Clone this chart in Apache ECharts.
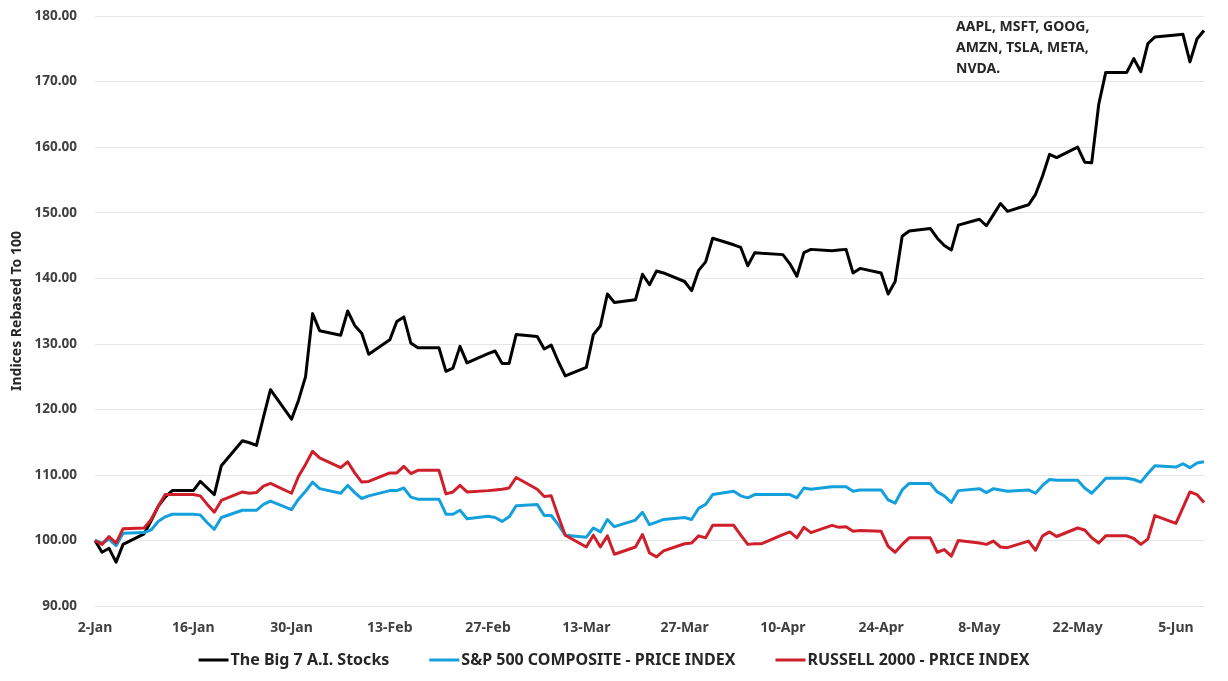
<!DOCTYPE html>
<html>
<head>
<meta charset="utf-8">
<title>The Big 7 A.I. Stocks vs indices</title>
<script src="https://cdn.jsdelivr.net/npm/echarts@6/dist/echarts.min.js"></script>
<style>
  html, body { margin: 0; padding: 0; background: #fff; }
  #chart { width: 1228px; height: 681px; }
</style>
</head>
<body>
<div id="chart"></div>
<script>
// weekdays of 2023 (MM-DD), one value per day in each series
const dates = [
  '01-02', '01-03', '01-04', '01-05', '01-06',
  '01-09', '01-10', '01-11', '01-12', '01-13',
  '01-16', '01-17', '01-18', '01-19', '01-20',
  '01-23', '01-24', '01-25', '01-26', '01-27',
  '01-30', '01-31', '02-01', '02-02', '02-03',
  '02-06', '02-07', '02-08', '02-09', '02-10',
  '02-13', '02-14', '02-15', '02-16', '02-17',
  '02-20', '02-21', '02-22', '02-23', '02-24',
  '02-27', '02-28', '03-01', '03-02', '03-03',
  '03-06', '03-07', '03-08', '03-09', '03-10',
  '03-13', '03-14', '03-15', '03-16', '03-17',
  '03-20', '03-21', '03-22', '03-23', '03-24',
  '03-27', '03-28', '03-29', '03-30', '03-31',
  '04-03', '04-04', '04-05', '04-06', '04-07',
  '04-10', '04-11', '04-12', '04-13', '04-14',
  '04-17', '04-18', '04-19', '04-20', '04-21',
  '04-24', '04-25', '04-26', '04-27', '04-28',
  '05-01', '05-02', '05-03', '05-04', '05-05',
  '05-08', '05-09', '05-10', '05-11', '05-12',
  '05-15', '05-16', '05-17', '05-18', '05-19',
  '05-22', '05-23', '05-24', '05-25', '05-26',
  '05-29', '05-30', '05-31', '06-01', '06-02',
  '06-05', '06-06', '06-07', '06-08', '06-09'
]

const big7 = [
  100, 98.2, 98.8, 96.7, 99.4,
  101.0, 103.0, 105.2, 106.6, 107.6,
  107.6, 109.0, 108.0, 107.0, 111.4,
  115.2, 114.9, 114.5, 118.8, 123.0,
  118.5, 121.4, 125.0, 134.6, 132.0,
  131.3, 135.0, 132.8, 131.6, 128.4,
  130.6, 133.4, 134.1, 130.1, 129.4,
  129.4, 125.8, 126.3, 129.6, 127.1,
  128.5, 128.9, 127.0, 127.0, 131.4,
  131.1, 129.2, 129.8, 127.3, 125.1,
  126.4, 131.4, 132.7, 137.6, 136.3,
  136.7, 140.6, 139.0, 141.1, 140.8,
  139.5, 138.1, 141.2, 142.5, 146.1,
  145.1, 144.7, 141.9, 143.9, 143.8,
  143.6, 142.2, 140.3, 143.9, 144.4,
  144.2, 144.3, 144.4, 140.8, 141.5,
  140.8, 137.6, 139.5, 146.4, 147.2,
  147.6, 146.1, 145.0, 144.3, 148.1,
  149.0, 148.0, 149.7, 151.4, 150.2,
  151.2, 152.8, 155.6, 158.9, 158.4,
  160.0, 157.7, 157.6, 166.5, 171.4,
  171.4, 173.5, 171.5, 175.8, 176.8,
  177.1, 177.2, 173.0, 176.5, 177.8
]

const sp500 = [
  100, 99.6, 100.2, 99.2, 101.1,
  101.2, 101.6, 102.9, 103.6, 104.0,
  104.0, 103.9, 102.7, 101.7, 103.5,
  104.6, 104.6, 104.6, 105.5, 106.0,
  104.7, 106.3, 107.5, 108.9, 107.9,
  107.2, 108.4, 107.3, 106.4, 106.8,
  107.6, 107.6, 108.0, 106.6, 106.3,
  106.3, 104.0, 104.0, 104.6, 103.3,
  103.7, 103.5, 102.9, 103.6, 105.3,
  105.5, 103.8, 103.8, 102.4, 100.8,
  100.5, 101.9, 101.3, 103.2, 102.1,
  103.1, 104.3, 102.4, 102.8, 103.2,
  103.5, 103.2, 104.9, 105.5, 107.0,
  107.5, 106.8, 106.5, 107.0, 107.0,
  107.0, 107.0, 106.5, 108.0, 107.8,
  108.2, 108.2, 108.2, 107.5, 107.7,
  107.7, 106.2, 105.7, 107.7, 108.7,
  108.7, 107.4, 106.8, 105.8, 107.6,
  107.9, 107.3, 107.9, 107.7, 107.5,
  107.7, 107.2, 108.4, 109.3, 109.2,
  109.2, 108.0, 107.2, 108.3, 109.5,
  109.5, 109.3, 108.9, 110.2, 111.4,
  111.2, 111.7, 111.1, 111.8, 112.0
]

const russell = [
  100, 99.4, 100.6, 99.6, 101.8,
  101.9, 103.2, 105.2, 107.0, 107.0,
  107.0, 106.8, 105.5, 104.3, 106.1,
  107.4, 107.2, 107.3, 108.3, 108.7,
  107.2, 109.8, 111.6, 113.6, 112.6,
  111.1, 112.0, 110.3, 108.9, 109.0,
  110.3, 110.3, 111.3, 110.2, 110.7,
  110.7, 107.1, 107.4, 108.4, 107.4,
  107.6, 107.7, 107.8, 108.0, 109.6,
  107.8, 106.7, 106.8, 103.7, 100.8,
  99.0, 100.8, 99.0, 100.7, 97.9,
  99.0, 100.9, 98.1, 97.5, 98.4,
  99.5, 99.6, 100.7, 100.4, 102.3,
  102.3, 100.8, 99.4, 99.5, 99.5,
  100.9, 101.3, 100.4, 102.0, 101.2,
  102.3, 102.0, 102.1, 101.4, 101.5,
  101.4, 99.1, 98.2, 99.4, 100.4,
  100.4, 98.2, 98.6, 97.6, 100.0,
  99.6, 99.4, 99.9, 99.0, 98.9,
  99.9, 98.5, 100.7, 101.3, 100.6,
  101.9, 101.6, 100.4, 99.6, 100.7,
  100.7, 100.3, 99.4, 100.2, 103.8,
  102.6, 105.0, 107.4, 107.0, 105.8
]

const seriesNames = ['The Big 7 A.I. Stocks', 'S&P 500 COMPOSITE - PRICE INDEX', 'RUSSELL 2000 - PRICE INDEX']
const seriesColors = ['#000000', '#14a0dc', '#cf1f2b']
const note = 'AAPL, MSFT, GOOG,\nAMZN, TSLA, META,\nNVDA.'

const monthNames = ['Jan', 'Feb', 'Mar', 'Apr', 'May', 'Jun', 'Jul', 'Aug', 'Sep', 'Oct', 'Nov', 'Dec']
const DAY = 86400000
const start = Date.UTC(2023, 0, 2)

// x is days since 2-Jan so the axis keeps calendar spacing
const dayOffset = (md) => {
  const [m, d] = md.split('-').map(Number)
  return Math.round((Date.UTC(2023, m - 1, d) - start) / DAY)
}
const dateLabel = (offset) => {
  const dt = new Date(start + offset * DAY)
  return dt.getUTCDate() + '-' + monthNames[dt.getUTCMonth()]
}
const toPoints = (values) => dates.map((md, i) => [dayOffset(md), values[i]])

const baseFont = {
  color: '#404040',
  fontWeight: 'bold',
  fontFamily: 'Noto Sans, sans-serif'
}

const makeLine = (name, values, color) => ({
  name: name,
  type: 'line',
  data: toPoints(values),
  showSymbol: false,
  symbol: 'none',
  lineStyle: { color: color, width: 3, join: 'round' },
  itemStyle: { color: color },
  emphasis: { disabled: true },
  z: name === seriesNames[0] ? 1 : 2
})

const option = {
  animation: false,
  grid: { left: 95, right: 24, top: 16, bottom: 75, containLabel: false },
  xAxis: {
    type: 'value',
    min: 0,
    max: dayOffset(dates[dates.length - 1]),
    interval: 14,
    axisLine: { show: false },
    axisTick: { show: false },
    splitLine: { show: false },
    axisLabel: Object.assign({}, baseFont, {
      fontSize: 14,
      margin: 15,
      showMaxLabel: false,
      formatter: dateLabel
    })
  },
  yAxis: {
    type: 'value',
    min: 90,
    max: 180,
    interval: 10,
    name: 'Indices Rebased To 100',
    nameLocation: 'middle',
    nameGap: 70,
    nameTextStyle: Object.assign({}, baseFont, { color: '#262626', fontSize: 14 }),
    axisLine: { show: false },
    axisTick: { show: false },
    splitLine: { lineStyle: { color: '#e6e6e6', width: 1 } },
    axisLabel: Object.assign({}, baseFont, {
      fontSize: 13.5,
      margin: 18,
      formatter: (v) => v.toFixed(2)
    })
  },
  legend: {
    top: 647,
    left: 'center',
    itemGap: 40,
    itemWidth: 30,
    itemHeight: 3,
    icon: 'rect',
    textStyle: Object.assign({}, baseFont, {
      color: '#262626',
      fontSize: 16,
      padding: [0, 0, 0, -3]
    }),
    data: seriesNames
  },
  graphic: [{
    type: 'text',
    left: 956,
    top: 17,
    style: {
      text: note,
      fill: '#262626',
      font: 'bold 14px "Noto Sans", sans-serif',
      lineHeight: 21
    }
  }],
  series: [
    makeLine(seriesNames[0], big7, seriesColors[0]),
    makeLine(seriesNames[1], sp500, seriesColors[1]),
    makeLine(seriesNames[2], russell, seriesColors[2])
  ]
}

const chart = echarts.init(document.getElementById('chart'), null, { renderer: 'canvas' })
chart.setOption(option)
window.addEventListener('resize', () => chart.resize())
</script>
</body>
</html>
